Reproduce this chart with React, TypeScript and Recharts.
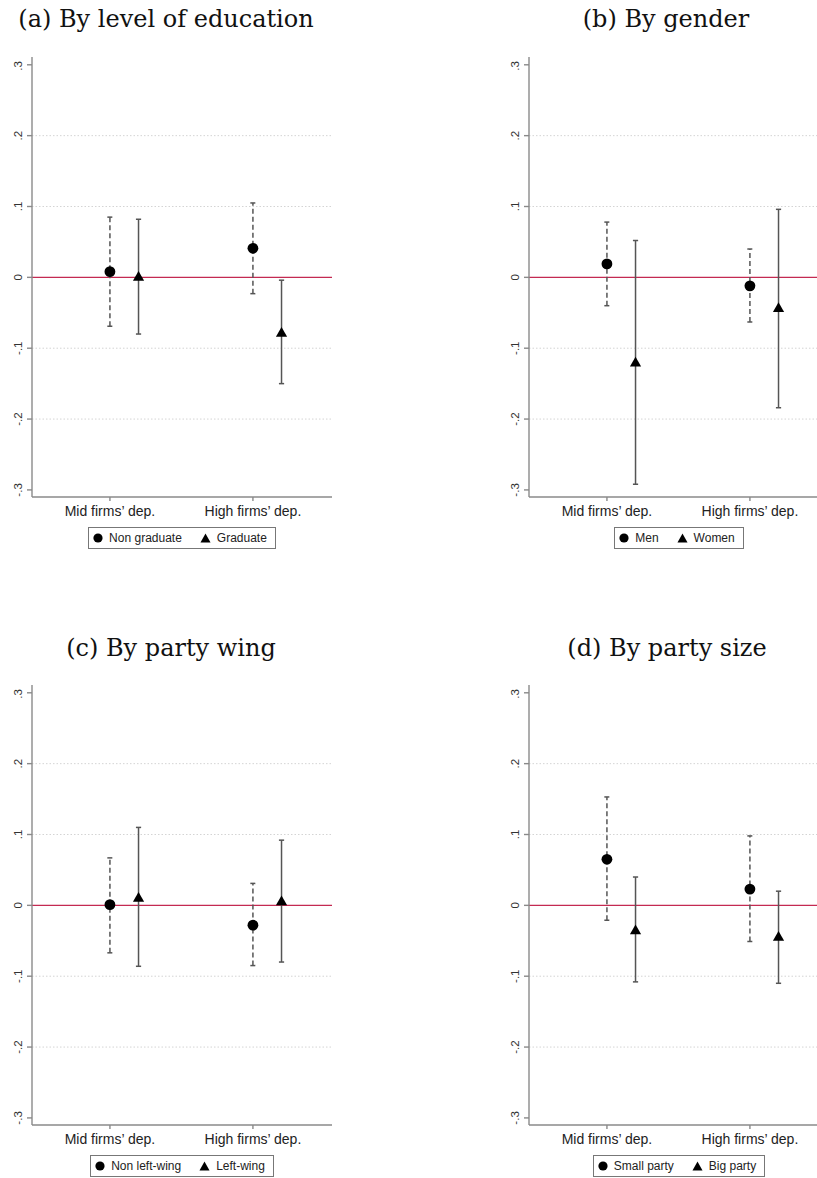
import React from "react";
import {
  ScatterChart,
  Scatter,
  XAxis,
  YAxis,
  ErrorBar,
  ReferenceLine,
  Legend,
} from "recharts";

// Category labels on the x axis and positions of the two estimates in each group
const categories = ["Mid firms’ dep.", "High firms’ dep."];
const circleX = [1, 2];
const triangleX = [1.2, 2.2];
const yTicks = [-0.3, -0.2, -0.1, 0, 0.1, 0.2, 0.3];
const gridValues = [-0.2, -0.1, 0.1, 0.2];

// (a) By level of education
const nonGradEst = [0.008, 0.041];
const nonGradLo = [-0.069, -0.023];
const nonGradHi = [0.085, 0.105];
const gradEst = [0.002, -0.077];
const gradLo = [-0.08, -0.15];
const gradHi = [0.082, -0.004];

// (b) By gender
const menEst = [0.019, -0.012];
const menLo = [-0.04, -0.063];
const menHi = [0.078, 0.04];
const womenEst = [-0.119, -0.042];
const womenLo = [-0.292, -0.184];
const womenHi = [0.052, 0.096];

// (c) By party wing
const nonLeftEst = [0.001, -0.028];
const nonLeftLo = [-0.067, -0.085];
const nonLeftHi = [0.067, 0.031];
const leftEst = [0.012, 0.007];
const leftLo = [-0.086, -0.08];
const leftHi = [0.11, 0.092];

// (d) By party size
const smallEst = [0.065, 0.023];
const smallLo = [-0.021, -0.051];
const smallHi = [0.153, 0.098];
const bigEst = [-0.034, -0.043];
const bigLo = [-0.108, -0.11];
const bigHi = [0.04, 0.02];

type Row = { x: number; y: number; err: [number, number] };

const buildRows = (xs: number[], est: number[], lo: number[], hi: number[]): Row[] =>
  est.map((v, i) => ({ x: xs[i], y: v, err: [v - lo[i], hi[i] - v] }));

const SANS = "'Liberation Sans', Arial, Helvetica, sans-serif";
const SERIF = "'DejaVu Serif', 'Liberation Serif', serif";
const AXIS_COLOR = "#8a8a8a";
const BAR_COLOR = "#555";

const fmtY = (v: number) =>
  Math.abs(v) < 1e-9 ? "0" : (v < 0 ? "-" : "") + "." + Math.round(Math.abs(v) * 10);

const YTick = (props: any) => {
  const { x, y, payload } = props;
  const px = x - 5;
  return (
    <text
      x={px}
      y={y}
      transform={`rotate(-90 ${px} ${y})`}
      textAnchor="middle"
      fontSize={11.5}
      fontFamily={SANS}
      fill="#333"
    >
      {fmtY(payload.value)}
    </text>
  );
};

const XTick = (props: any) => {
  const { x, y, payload } = props;
  const idx = circleX.indexOf(payload.value);
  return (
    <text x={x} y={y} dy="0.71em" textAnchor="middle" fontSize={14} fontFamily={SANS} fill="#222">
      {idx >= 0 ? categories[idx] : ""}
    </text>
  );
};

const CircleShape = (props: any) => {
  const { cx, cy } = props;
  return <circle cx={cx} cy={cy} r={5.4} fill="#000" />;
};

const TriangleShape = (props: any) => {
  const { cx, cy } = props;
  const h = 4.9;
  const w = 5.6;
  return <polygon points={`${cx},${cy - h} ${cx - w},${cy + h} ${cx + w},${cy + h}`} fill="#000" />;
};

const LegendCircle = () => (
  <svg width={10} height={10} style={{ display: "block" }}>
    <circle cx={5} cy={5} r={4.6} fill="#000" />
  </svg>
);

const LegendTriangle = () => (
  <svg width={11} height={10} style={{ display: "block" }}>
    <polygon points="5.5,0.5 0.5,9.5 10.5,9.5" fill="#000" />
  </svg>
);

const makeLegend = (nameA: string, nameB: string) => () => (
  <div style={{ display: "flex", justifyContent: "center" }}>
    <div
      style={{
        boxSizing: "border-box",
        height: 22,
        border: "1px solid #777",
        display: "flex",
        alignItems: "center",
        padding: "0 8px 0 4px",
        fontFamily: SANS,
        fontSize: 12,
        color: "#222",
        background: "#fff",
      }}
    >
      <LegendCircle />
      <span style={{ marginLeft: 6 }}>{nameA}</span>
      <span style={{ marginLeft: 18 }}>
        <LegendTriangle />
      </span>
      <span style={{ marginLeft: 6 }}>{nameB}</span>
    </div>
  </div>
);

type PanelProps = {
  title: string;
  titleCenter: number;
  titleTop: number;
  left: number;
  top: number;
  dashed: Row[];
  solid: Row[];
  nameA: string;
  nameB: string;
};

const PLOT_W = 300;
const PLOT_H = 440;
const Y_AXIS_W = 32;

const Panel = ({ title, titleCenter, titleTop, left, top, dashed, solid, nameA, nameB }: PanelProps) => (
  <>
    <div
      style={{
        position: "absolute",
        left: titleCenter - 200,
        top: titleTop,
        width: 400,
        textAlign: "center",
        fontFamily: SERIF,
        fontSize: 24,
        lineHeight: "26px",
        color: "#111",
        whiteSpace: "nowrap",
      }}
    >
      {title}
    </div>
    <div style={{ position: "absolute", left, top }}>
      <ScatterChart
        width={Y_AXIS_W + PLOT_W}
        height={PLOT_H + 30 + 22}
        margin={{ top: 0, right: 0, bottom: 0, left: 0 }}
      >
        <XAxis
          type="number"
          dataKey="x"
          domain={[0.455, 2.553]}
          ticks={circleX}
          allowDataOverflow
          height={30}
          tickSize={4}
          tickMargin={5}
          stroke={AXIS_COLOR}
          strokeWidth={1.4}
          tick={<XTick />}
        />
        <YAxis
          type="number"
          dataKey="y"
          domain={[-0.31, 0.311]}
          ticks={yTicks}
          allowDataOverflow
          width={Y_AXIS_W}
          tickSize={5}
          tickMargin={0}
          stroke={AXIS_COLOR}
          strokeWidth={1.4}
          tick={<YTick />}
        />
        {gridValues.map((g) => (
          <ReferenceLine key={g} y={g} stroke="#d4d4d4" strokeWidth={1} strokeDasharray="1.5 2" />
        ))}
        <ReferenceLine y={0} stroke="#c42a52" strokeWidth={1.3} />
        <Legend
          verticalAlign="bottom"
          content={makeLegend(nameA, nameB)}
          wrapperStyle={{ left: Y_AXIS_W, width: PLOT_W, bottom: 0, height: 22 }}
        />
        <Scatter data={dashed} isAnimationActive={false} shape={<CircleShape />}>
          <ErrorBar
            dataKey="err"
            direction="y"
            width={2.6}
            stroke={BAR_COLOR}
            strokeWidth={1.5}
            strokeDasharray="5 3"
            isAnimationActive={false}
          />
        </Scatter>
        <Scatter data={solid} isAnimationActive={false} shape={<TriangleShape />}>
          <ErrorBar
            dataKey="err"
            direction="y"
            width={2.6}
            stroke={BAR_COLOR}
            strokeWidth={1.5}
            isAnimationActive={false}
          />
        </Scatter>
      </ScatterChart>
    </div>
  </>
);

export default function App() {
  return (
    <div
      style={{
        position: "absolute",
        left: 0,
        top: 0,
        width: 817,
        height: 1178,
        overflow: "hidden",
        background: "#fff",
      }}
    >
      <Panel
        title="(a) By level of education"
        titleCenter={166}
        titleTop={6}
        left={0}
        top={57}
        dashed={buildRows(circleX, nonGradEst, nonGradLo, nonGradHi)}
        solid={buildRows(triangleX, gradEst, gradLo, gradHi)}
        nameA="Non graduate"
        nameB="Graduate"
      />
      <Panel
        title="(b) By gender"
        titleCenter={666}
        titleTop={6}
        left={497}
        top={57}
        dashed={buildRows(circleX, menEst, menLo, menHi)}
        solid={buildRows(triangleX, womenEst, womenLo, womenHi)}
        nameA="Men"
        nameB="Women"
      />
      <Panel
        title="(c) By party wing"
        titleCenter={171}
        titleTop={635}
        left={0}
        top={685}
        dashed={buildRows(circleX, nonLeftEst, nonLeftLo, nonLeftHi)}
        solid={buildRows(triangleX, leftEst, leftLo, leftHi)}
        nameA="Non left-wing"
        nameB="Left-wing"
      />
      <Panel
        title="(d) By party size"
        titleCenter={667}
        titleTop={635}
        left={497}
        top={685}
        dashed={buildRows(circleX, smallEst, smallLo, smallHi)}
        solid={buildRows(triangleX, bigEst, bigLo, bigHi)}
        nameA="Small party"
        nameB="Big party"
      />
    </div>
  );
}
